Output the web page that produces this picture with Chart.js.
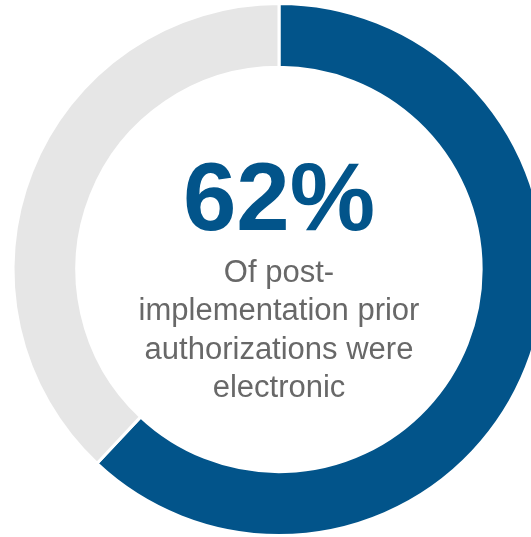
<!DOCTYPE html>
<html>
<head>
<meta charset="utf-8">
<script src="https://cdn.jsdelivr.net/npm/chart.js@4"></script>
<style>
  html, body { margin: 0; padding: 0; background: #fff; overflow: hidden; }
  #wrap { position: absolute; left: 0; top: 0; width: 558px; height: 537px; }
</style>
</head>
<body>
<div id="wrap"><canvas id="donutChart"></canvas></div>
<script>
var labels = ['Electronic', 'Other'];
var values = [62, 38];
var colors = ['#02548a', '#e6e6e6'];
var headline = '62%';
var captionLines = ['Of post-', 'implementation prior', 'authorizations were', 'electronic'];

var centerText = {
    id: 'centerText',
    afterDraw: function (chart) {
        var c = chart.ctx;
        var meta = chart.getDatasetMeta(0).data[0];
        var x = meta.x, y = meta.y;
        c.save();
        c.textAlign = 'center';
        c.textBaseline = 'alphabetic';
        c.fillStyle = '#02548a';
        c.font = 'bold 96px "Liberation Sans", Arial, sans-serif';
        c.fillText(headline, x, y - 40);
        c.fillStyle = '#686868';
        c.font = '31px "Liberation Sans", Arial, sans-serif';
        for (var i = 0; i < captionLines.length; i++) {
            c.fillText(captionLines[i], x, y + 12.5 + i * 38.3);
        }
        c.restore();
    }
};

var ctx = document.getElementById('donutChart').getContext('2d');
var donutChart = new Chart(ctx, {
    type: 'doughnut',
    data: {
        labels: labels,
        datasets: [{
            data: values,
            backgroundColor: colors,
            borderColor: '#ffffff',
            borderWidth: 3
        }]
    },
    options: {
        responsive: true,
        maintainAspectRatio: false,
        animation: false,
        cutout: '76%',
        layout: { padding: { top: 2, bottom: 0, left: 0, right: 0 } },
        plugins: {
            legend: { display: false },
            tooltip: { enabled: false }
        }
    },
    plugins: [centerText]
});
</script>
</body>
</html>
